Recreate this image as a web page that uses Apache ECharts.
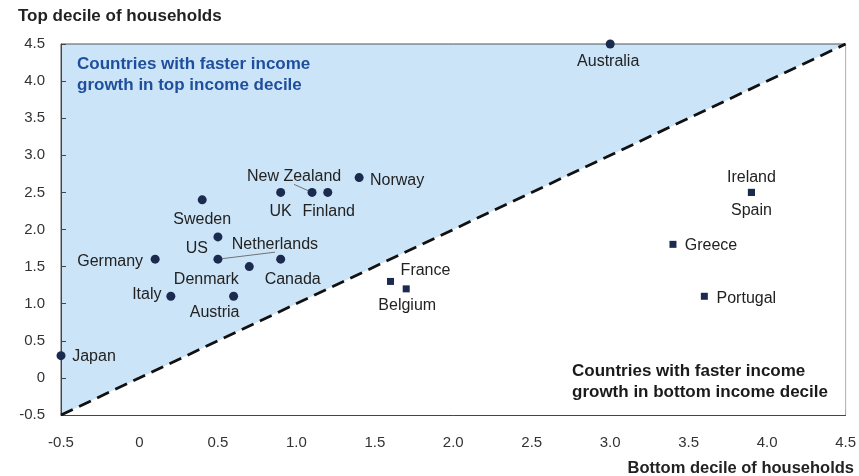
<!DOCTYPE html>
<html>
<head>
<meta charset="utf-8">
<script src="https://cdn.jsdelivr.net/npm/echarts@6/dist/echarts.min.js"></script>
<style>html,body{margin:0;padding:0;background:#fff;}#c{width:859px;height:476px;}</style>
</head>
<body>
<div id="c"></div>
<script>
// Data: [bottom decile growth, top decile growth]
var circleNames = ["Australia","Norway","New Zealand","UK","Finland","Sweden","US","Netherlands","Denmark","Canada","Germany","Italy","Austria","Japan"];
var circleX = [3.0, 1.4, 1.1, 0.9, 1.2, 0.4, 0.5, 0.5, 0.7, 0.9, 0.1, 0.2, 0.6, -0.5];
var circleY = [4.5, 2.7, 2.5, 2.5, 2.5, 2.4, 1.9, 1.6, 1.5, 1.6, 1.6, 1.1, 1.1, 0.3];

var squareNames = ["France","Belgium","Ireland","Spain","Greece","Portugal"];
var squareX = [1.6, 1.7, 3.9, 3.9, 3.4, 3.6];
var squareY = [1.3, 1.2, 2.5, 2.5, 1.8, 1.1];

var diagX = [-0.5, 4.5];
var diagY = [-0.5, 4.5];

var axisMin = -0.5, axisMax = 4.5, axisStep = 0.5;

var xAxisTitle = "Bottom decile of households";
var yAxisTitle = "Top decile of households";
var topNote = ["Countries with faster income", "growth in top income decile"];
var bottomNote = ["Countries with faster income", "growth in bottom income decile"];

// Label placement (style only): pixel offset of label centre from the marker
var labelPlace = {
  "Australia": [-2, 18],
  "Norway": [38, 3],
  "New Zealand": [-18, -16],
  "UK": [0, 19],
  "Finland": [1, 19],
  "Sweden": [0, 20],
  "US": [-21, 12],
  "Netherlands": [57, -15],
  "Germany": [-45, 2],
  "Denmark": [-43, 13],
  "Canada": [12, 20],
  "Italy": [-24, -2],
  "Austria": [-19, 16],
  "Japan": [33, 1],
  "France": [35, -11],
  "Belgium": [1, 17],
  "Ireland": [0, -15],
  "Spain": [0, 18],
  "Greece": [38, 1],
  "Portugal": [42, 2]
};
var leaderLines = {"New Zealand": true, "Netherlands": true};

function buildPoints(names, xs, ys) {
  return names.map(function (n, i) {
    var off = labelPlace[n] || [0, 0];
    var item = {
      name: n,
      value: [xs[i], ys[i]],
      label: {
        show: true,
        formatter: n,
        position: 'inside',
        offset: off
      }
    };
    if (leaderLines[n]) {
      item.labelLine = {show: true, length2: 0, lineStyle: {color: '#555', width: 0.8}};
    }
    return item;
  });
}

var font = "'Liberation Sans', Arial, sans-serif";
var markerColor = "#1b2b50";

var chart = echarts.init(document.getElementById('c'), null, {renderer: 'canvas'});
var option = {
  animation: false,
  textStyle: {fontFamily: font},
  grid: {
    left: 61, right: 13, top: 44, bottom: 61,
    show: true, backgroundColor: '#cce4f7', borderColor: '#555', borderWidth: 1
  },
  xAxis: {
    type: 'value', min: axisMin, max: axisMax, interval: axisStep,
    axisLine: {show: true, onZero: false, lineStyle: {color: '#444', width: 1}},
    axisTick: {show: true, inside: true, length: 5, lineStyle: {color: '#444'}},
    splitLine: {show: false},
    axisLabel: {margin: 20, fontSize: 15, color: '#333', fontFamily: font,
      formatter: function (v) { return Math.abs(v) < 1e-9 ? '0' : v.toFixed(1); }}
  },
  yAxis: {
    type: 'value', min: axisMin, max: axisMax, interval: axisStep,
    axisLine: {show: true, onZero: false, lineStyle: {color: '#444', width: 1}},
    axisTick: {show: true, inside: true, length: 5, lineStyle: {color: '#444'}},
    splitLine: {show: false},
    axisLabel: {margin: 16, fontSize: 15, color: '#333', fontFamily: font,
      formatter: function (v) { return Math.abs(v) < 1e-9 ? '0' : v.toFixed(1); }}
  },
  graphic: [
    {type: 'text', left: 18, top: 8, z: 10, style: {text: yAxisTitle, font: 'bold 17px ' + font, fill: '#222'}},
    {type: 'text', right: 5, top: 460, z: 10, style: {text: xAxisTitle, font: 'bold 16.5px ' + font, fill: '#222'}},
    {type: 'text', left: 77, top: 54, z: 10, style: {text: topNote.join('\n'), font: 'bold 17px ' + font, fill: '#1f4f9c', lineHeight: 21}},
    {type: 'text', left: 572, top: 361, z: 10, style: {text: bottomNote.join('\n'), font: 'bold 17px ' + font, fill: '#1a1a1a', lineHeight: 21}}
  ],
  series: [
    {
      type: 'line', data: diagX.map(function (x, i) { return [x, diagY[i]]; }),
      symbol: 'none', silent: true, z: 1,
      lineStyle: {width: 0, opacity: 0},
      areaStyle: {color: '#ffffff', opacity: 1, origin: 'start'}
    },
    {
      type: 'line', data: diagX.map(function (x, i) { return [x, diagY[i]]; }),
      symbol: 'none', silent: true, z: 3,
      lineStyle: {color: '#111', width: 2.8, type: [13, 7]}
    },
    {
      type: 'scatter', symbol: 'circle', symbolSize: 9, z: 5,
      itemStyle: {color: markerColor, opacity: 1},
      label: {color: '#222', fontFamily: font, fontSize: 16},
      data: buildPoints(circleNames, circleX, circleY)
    },
    {
      type: 'scatter', symbol: 'rect', symbolSize: 7, z: 5,
      itemStyle: {color: markerColor, opacity: 1},
      label: {color: '#222', fontFamily: font, fontSize: 16},
      data: buildPoints(squareNames, squareX, squareY)
    }
  ]
};
chart.setOption(option);
</script>
</body>
</html>
